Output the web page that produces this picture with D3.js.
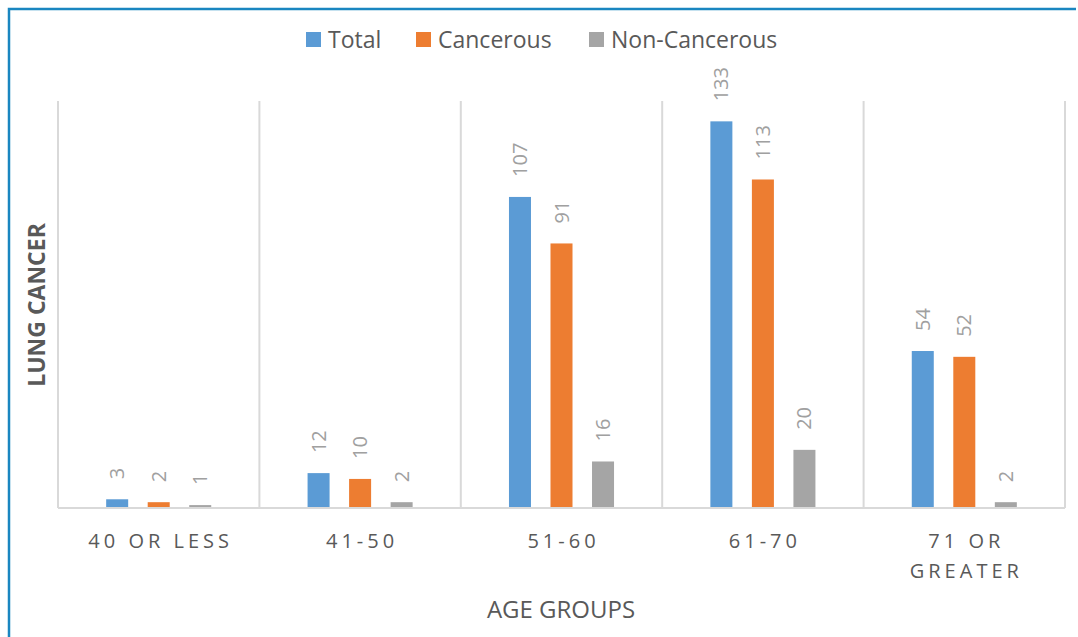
<!DOCTYPE html>
<html>
<head>
<meta charset="utf-8">
<script src="https://cdn.jsdelivr.net/npm/d3@7"></script>
<style>
  body { margin: 0; background: #fff; }
  svg { display: block; font-family: "Open Sans", Lato, sans-serif; }
</style>
</head>
<body>
<svg width="1078" height="637"></svg>
<script>
var svg = d3.select("svg");

// data
var categories = ["40 OR LESS", "41-50", "51-60", "61-70", "71 OR GREATER"];
var seriesNames = ["Total", "Cancerous", "Non-Cancerous"];
var total = [3, 12, 107, 133, 54];
var cancerous = [2, 10, 91, 113, 52];
var nonCancerous = [1, 2, 16, 20, 2];
var colors = ["#5b9bd5", "#ed7d31", "#a5a5a5"];

var series = [total, cancerous, nonCancerous];

var plotLeft = 58, plotRight = 1065, plotTop = 101, plotBottom = 508;

var x = d3.scaleBand().domain(categories).range([plotLeft, plotRight]).padding(0);
var x1 = d3.scaleBand().domain(seriesNames).range([0, x.bandwidth()]).paddingInner(0.47).paddingOuter(1.16);
var y = d3.scaleLinear().domain([0, 140]).range([plotBottom, plotTop]);

// frame
svg.append("path")
   .attr("d", "M9,640 V9 H1076")
   .attr("fill", "none")
   .attr("stroke", "#1a86c0")
   .attr("stroke-width", 2.5);

// category separators
var seps = categories.map(function(d) { return x(d); }).concat([plotRight]);
svg.selectAll("line.sep")
   .data(seps)
   .enter().append("line")
     .attr("class", "sep")
     .attr("x1", function(d) { return d; })
     .attr("x2", function(d) { return d; })
     .attr("y1", plotTop)
     .attr("y2", plotBottom)
     .attr("stroke", "#d9d9d9")
     .attr("stroke-width", 2);

// bars
var groups = svg.selectAll("g.cat")
   .data(categories)
   .enter().append("g")
     .attr("class", "cat")
     .attr("transform", function(d) { return "translate(" + x(d) + ",0)"; });

groups.each(function(cat, ci) {
    var g = d3.select(this);
    var vals = seriesNames.map(function(s, si) { return {s: s, v: series[si][ci], c: colors[si]}; });
    g.selectAll("rect")
     .data(vals)
     .enter().append("rect")
       .attr("x", function(d) { return x1(d.s); })
       .attr("y", function(d) { return y(d.v); })
       .attr("width", x1.bandwidth())
       .attr("height", function(d) { return plotBottom - y(d.v); })
       .attr("fill", function(d) { return d.c; });
    g.selectAll("text")
     .data(vals)
     .enter().append("text")
       .attr("transform", function(d) {
           return "translate(" + (x1(d.s) + x1.bandwidth() / 2 + 7) + "," + (y(d.v) - 20) + ") rotate(-90)";
       })
       .attr("text-anchor", "start")
       .style("font-size", "20px")
       .style("fill", "#a0a0a0")
       .text(function(d) { return d.v; });
});

// baseline
svg.append("line")
   .attr("x1", plotLeft).attr("x2", plotRight)
   .attr("y1", plotBottom).attr("y2", plotBottom)
   .attr("stroke", "#d9d9d9")
   .attr("stroke-width", 2);

// category labels
svg.selectAll("text.catlabel")
   .data(categories)
   .enter().append("text")
     .attr("class", "catlabel")
     .attr("y", 548)
     .attr("text-anchor", "middle")
     .style("font-size", "20px")
     .style("letter-spacing", "4px")
     .style("fill", "#595959")
     .each(function(d) {
         var t = d3.select(this);
         var lines = d === "71 OR GREATER" ? ["71 OR", "GREATER"] : [d];
         lines.forEach(function(l, i) {
             t.append("tspan")
              .attr("x", x(d) + x.bandwidth() / 2 + 2)
              .attr("dy", i === 0 ? 0 : 30)
              .text(l);
         });
     });

// axis titles
svg.append("text")
   .attr("x", 561)
   .attr("y", 618)
   .attr("text-anchor", "middle")
   .style("font-size", "24px")
   .style("fill", "#595959")
   .text("AGE GROUPS");

svg.append("text")
   .attr("transform", "translate(45,305) rotate(-90)")
   .attr("text-anchor", "middle")
   .style("font-size", "23px")
   .style("font-weight", "bold")
   .style("fill", "#595959")
   .text("LUNG CANCER");

// legend
var legendX = [306, 416, 589];
var legend = svg.selectAll("g.legend")
   .data(seriesNames)
   .enter().append("g")
     .attr("class", "legend")
     .attr("transform", function(d, i) { return "translate(" + legendX[i] + ",32)"; });

legend.append("rect")
   .attr("width", 15)
   .attr("height", 15)
   .attr("fill", function(d, i) { return colors[i]; });

legend.append("text")
   .attr("x", 22)
   .attr("y", 15.5)
   .style("font-size", "23px")
   .style("fill", "#595959")
   .text(function(d) { return d; });
</script>
</body>
</html>
